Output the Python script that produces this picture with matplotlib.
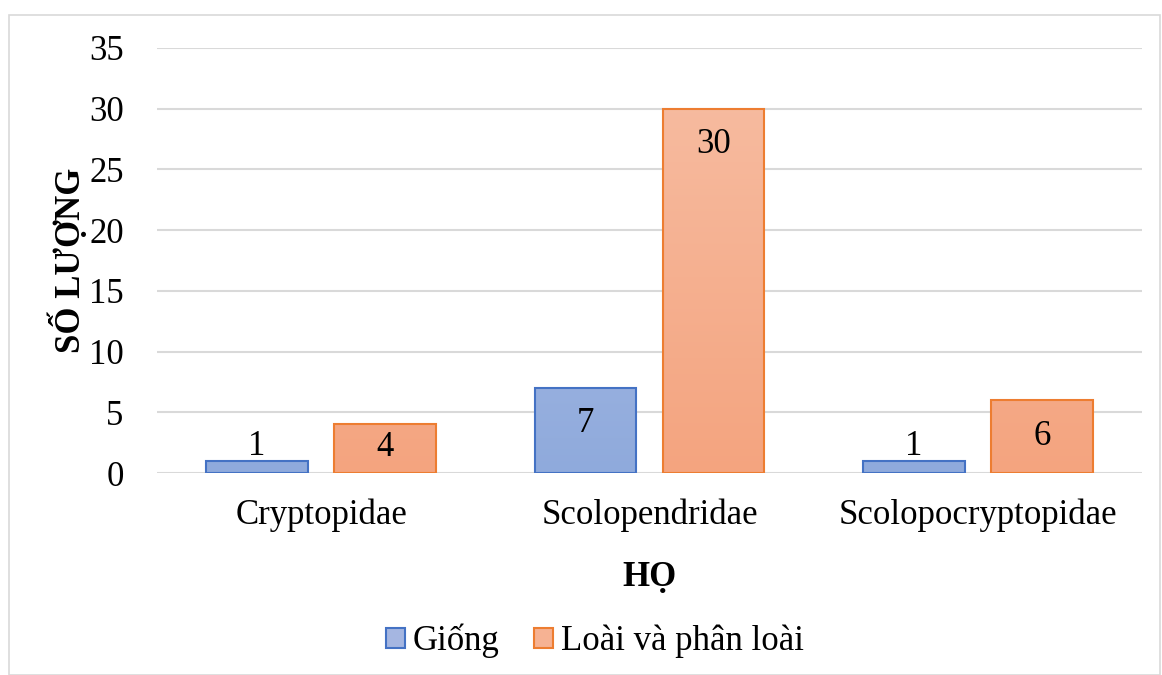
import matplotlib
matplotlib.use("Agg")
import matplotlib.pyplot as plt
import numpy as np
from matplotlib.patches import Rectangle
from matplotlib.colors import LinearSegmentedColormap

categories = ["Cryptopidae", "Scolopendridae", "Scolopocryptopidae"]
giong = [1, 7, 1]
loai = [4, 30, 6]
series_names = ["Giống", "Loài và phân loài"]
yticks = [0, 5, 10, 15, 20, 25, 30, 35]

plt.rcParams['font.family'] = ['Liberation Serif', 'DejaVu Serif']
FS = 25

fig = plt.figure(figsize=(11.62, 6.75), dpi=100)
ax = fig.add_axes([157/1162, 1-473/675, (1142-157)/1162, (473-48)/675])

# outer border
fig.patches.append(Rectangle((9/1162, 0), (1160-9)/1162, 1-15/675, transform=fig.transFigure,
                             fill=False, edgecolor='#d9d9d9', lw=1.2))

x = np.arange(len(categories))
w = 0.31
off = 0.195
blue_edge = '#4472c4'
orange_edge = '#ed7d31'
blue_cmap = LinearSegmentedColormap.from_list('b', ['#8faadc', '#b4c3e8'])
orange_cmap = LinearSegmentedColormap.from_list('o', ['#f4a47f', '#f7bea4'])

ax.set_xlim(-0.5, 2.5)
ax.set_ylim(0, 35)

b1 = ax.bar(x - off, giong, w, color='#a5b6e1', edgecolor=blue_edge, lw=1.5, zorder=3, label=series_names[0])
b2 = ax.bar(x + off, loai, w, color='#f6b293', edgecolor=orange_edge, lw=1.5, zorder=3, label=series_names[1])

grad = np.linspace(0, 1, 256).reshape(-1, 1)
for bars, cmap in ((b1, blue_cmap), (b2, orange_cmap)):
    for r in bars:
        x0, y0 = r.get_x(), r.get_y()
        im = ax.imshow(grad, cmap=cmap, origin='lower', aspect='auto',
                       extent=[x0, x0 + r.get_width(), 0, 35], zorder=2.5)
        clip = Rectangle((x0, y0), r.get_width(), r.get_height(), transform=ax.transData)
        im.set_clip_path(clip)
        r.set_facecolor('none')

# data labels (inside end, or outside end when the bar is too short)
px_per_unit = (473 - 48) / 35.0
for bars, vals in ((b1, giong), (b2, loai)):
    for r, v in zip(bars, vals):
        cx = r.get_x() + r.get_width() / 2
        hpx = v * px_per_unit
        if hpx < 40:
            dy = 18
        else:
            dy = -min(32, hpx - 29)
        ax.annotate(str(v), (cx, v), xytext=(0, dy * 0.72), textcoords='offset points',
                    ha='center', va='center_baseline', fontsize=FS, zorder=5)

ax.set_yticks(yticks)
ax.set_xticks(x)
ax.set_xticklabels(categories)
ax.tick_params(axis='both', length=0, labelsize=FS)
ax.tick_params(axis='y', pad=24)
ax.tick_params(axis='x', pad=18)
ax.yaxis.grid(True, color='#d9d9d9', lw=1.5, zorder=0)
ax.set_axisbelow(True)
for s in ax.spines.values():
    s.set_visible(False)

ax.set_ylabel("SỐ LƯỢNG", fontsize=FS, fontweight='bold', labelpad=1)
ax.set_xlabel("HỌ", fontsize=FS, fontweight='bold', labelpad=21)

leg = fig.legend(handles=[b1, b2], labels=series_names, loc='center', bbox_to_anchor=(595/1162, 1-641/675),
                 ncol=2, frameon=False, fontsize=FS, handlelength=0.55, handleheight=0.55,
                 handletextpad=0.23, columnspacing=1.0)
for h, fc in zip(leg.legend_handles, ['#a5b6e1', '#f6b293']):
    h.set_facecolor(fc)

fig.savefig("out.png", dpi=100)
